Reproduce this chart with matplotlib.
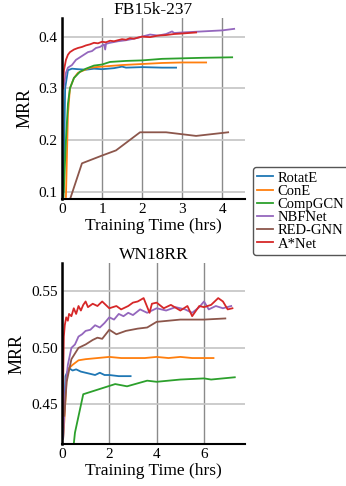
import numpy as np
import matplotlib
matplotlib.use("Agg")
import matplotlib.pyplot as plt

plt.rcParams['font.family'] = ['Liberation Serif', 'DejaVu Serif']

methods = ['RotatE', 'ConE', 'CompGCN', 'NBFNet', 'RED-GNN', 'A*Net']
colors = ['#1f77b4', '#ff7f0e', '#2ca02c', '#9467bd', '#8c564b', '#d62728']

# FB15k-237: tiempo (hrs) y MRR
fb_t = {
    'RotatE': [0.04, 0.08, 0.15, 0.25, 0.4, 0.6, 0.8, 1.0, 1.3, 1.5, 1.6, 2.0, 2.5, 2.85],
    'ConE': [0.1, 0.15, 0.2, 0.3, 0.4, 0.55, 0.7, 1.0, 1.5, 2.0, 2.5, 3.0, 3.6],
    'CompGCN': [0.04, 0.1, 0.15, 0.2, 0.3, 0.45, 0.6, 0.8, 1.0, 1.2, 1.6, 2.0, 2.5, 3.0, 3.5, 4.25],
    'NBFNet': [0.04, 0.1, 0.15, 0.25, 0.35, 0.45, 0.55, 0.65, 0.75, 0.85, 0.95, 1.05, 1.08, 1.1,
               1.2, 1.4, 1.6, 1.8, 2.0, 2.2, 2.4, 2.6, 2.75, 2.8, 3.0, 3.5, 4.0, 4.3],
    'RED-GNN': [0.2, 0.5, 1.0, 1.35, 1.95, 2.6, 3.35, 4.15],
    'A*Net': [0.02, 0.05, 0.1, 0.15, 0.2, 0.3, 0.4, 0.5, 0.6, 0.7, 0.8, 0.9, 1.0, 1.1, 1.2,
              1.3, 1.4, 1.5, 1.6, 1.7, 1.8, 2.0, 2.2, 2.4, 2.6, 2.8, 3.0, 3.35],
}
fb_mrr = {
    'RotatE': [0.1, 0.3, 0.335, 0.338, 0.337, 0.336, 0.338, 0.337, 0.339, 0.342, 0.34, 0.341, 0.34, 0.34],
    'ConE': [0.09, 0.25, 0.3, 0.32, 0.33, 0.335, 0.34, 0.342, 0.345, 0.347, 0.349, 0.35, 0.35],
    'CompGCN': [0.09, 0.2, 0.27, 0.3, 0.32, 0.332, 0.338, 0.344, 0.346, 0.351, 0.353, 0.354, 0.357, 0.358, 0.359, 0.36],
    'NBFNet': [0.3, 0.33, 0.34, 0.345, 0.355, 0.36, 0.365, 0.37, 0.372, 0.378, 0.38, 0.385, 0.375, 0.386,
               0.388, 0.391, 0.393, 0.396, 0.4, 0.404, 0.402, 0.405, 0.41, 0.407, 0.408, 0.41, 0.412, 0.415],
    'RED-GNN': [0.085, 0.155, 0.17, 0.18, 0.215, 0.215, 0.208, 0.215],
    'A*Net': [0.3, 0.335, 0.355, 0.365, 0.37, 0.375, 0.378, 0.38, 0.383, 0.385, 0.388, 0.387, 0.39, 0.389, 0.392,
              0.391, 0.393, 0.395, 0.394, 0.397, 0.396, 0.4, 0.399, 0.402, 0.403, 0.405, 0.406, 0.408],
}

# WN18RR
wn_t = {
    'RotatE': [0.05, 0.15, 0.3, 0.45, 0.6, 0.8, 1.0, 1.2, 1.4, 1.6, 1.8, 2.0, 2.4, 2.9],
    'ConE': [0.05, 0.1, 0.2, 0.3, 0.45, 0.7, 1.0, 1.5, 2.0, 2.5, 3.0, 3.5, 4.0, 4.5, 5.0, 5.5, 6.0, 6.4],
    'CompGCN': [0.5, 0.55, 0.9, 2.25, 2.75, 3.6, 4.0, 5.0, 6.0, 6.3, 7.3],
    'NBFNet': [0.05, 0.15, 0.25, 0.4, 0.55, 0.7, 0.85, 1.0, 1.2, 1.4, 1.6, 1.8, 2.0, 2.2, 2.4, 2.6,
               2.8, 3.0, 3.3, 3.6, 4.0, 4.4, 4.8, 5.2, 5.5, 5.8, 6.0, 6.2, 6.5, 6.8, 7.15],
    'RED-GNN': [0.1, 0.2, 0.4, 0.7, 1.0, 1.3, 1.5, 1.7, 2.0, 2.3, 2.7, 3.2, 3.6, 4.0, 5.0, 6.0, 6.9],
    'A*Net': [0.02, 0.08, 0.12, 0.18, 0.25, 0.3, 0.4, 0.5, 0.6, 0.7, 0.8, 0.9, 1.0, 1.1, 1.3, 1.5,
              1.7, 2.0, 2.3, 2.5, 2.8, 3.0, 3.2, 3.45, 3.7, 3.8, 4.0, 4.3, 4.6, 5.0, 5.3, 5.5,
              5.8, 6.0, 6.3, 6.6, 6.8, 7.0, 7.2],
}
wn_mrr = {
    'RotatE': [0.42, 0.475, 0.482, 0.48, 0.481, 0.479, 0.478, 0.477, 0.476, 0.478, 0.476, 0.476, 0.475, 0.475],
    'ConE': [0.42, 0.435, 0.475, 0.482, 0.485, 0.489, 0.49, 0.491, 0.492, 0.491, 0.491, 0.491, 0.492, 0.491, 0.492, 0.491, 0.491, 0.491],
    'CompGCN': [0.415, 0.425, 0.459, 0.468, 0.466, 0.471, 0.470, 0.472, 0.473, 0.472, 0.474],
    'NBFNet': [0.42, 0.465, 0.485, 0.5, 0.503, 0.51, 0.512, 0.515, 0.516, 0.52, 0.518, 0.522, 0.527, 0.525,
               0.53, 0.528, 0.531, 0.529, 0.534, 0.531, 0.535, 0.533, 0.536, 0.534, 0.531, 0.536, 0.541, 0.534,
               0.537, 0.535, 0.537],
    'RED-GNN': [0.44, 0.47, 0.49, 0.5, 0.503, 0.507, 0.509, 0.508, 0.516, 0.512, 0.515, 0.517, 0.518,
                0.523, 0.525, 0.525, 0.526],
    'A*Net': [0.43, 0.51, 0.52, 0.527, 0.524, 0.53, 0.528, 0.535, 0.53, 0.537, 0.533, 0.538, 0.541, 0.536,
              0.539, 0.537, 0.541, 0.535, 0.537, 0.534, 0.537, 0.54, 0.541, 0.544, 0.531, 0.539, 0.54, 0.535,
              0.538, 0.533, 0.537, 0.528, 0.537, 0.536, 0.538, 0.544, 0.541, 0.534, 0.535],
}

fig = plt.figure(figsize=(3.46, 4.86), dpi=100)
ax1 = fig.add_axes([0.179, 0.5905, 0.529, 0.3725])
ax2 = fig.add_axes([0.179, 0.0864, 0.529, 0.3724])


def estilo(ax):
    ax.grid(True, axis='x', color='#8a8a8a', linewidth=1.0)
    ax.grid(True, axis='y', color='#c4c4c4', linewidth=1.2)
    ax.set_axisbelow(True)
    for s in ['top', 'right']:
        ax.spines[s].set_visible(False)
    ax.spines['left'].set_linewidth(1.8)
    ax.spines['bottom'].set_linewidth(1.5)
    ax.tick_params(length=0, labelsize=11, pad=3)
    ax.set_xlabel('Training Time (hrs)', fontsize=12.5, labelpad=1)
    ax.set_ylabel('MRR', fontsize=13, labelpad=4)


lineas = []
for m, c in zip(methods, colors):
    l, = ax1.plot(fb_t[m], fb_mrr[m], color=c, linewidth=1.3, label=m)
    lineas.append(l)
    ax2.plot(wn_t[m], wn_mrr[m], color=c, linewidth=1.3)

ax1.set_title('FB15k-237', fontsize=12.5, pad=3)
ax1.set_xlim(0, 4.57)
ax1.set_ylim(0.086, 0.436)
ax1.set_xticks([0, 1, 2, 3, 4])
ax1.set_yticks([0.1, 0.2, 0.3, 0.4])
estilo(ax1)

ax2.set_title('WN18RR', fontsize=12.5, pad=3)
ax2.set_xlim(0, 7.73)
ax2.set_ylim(0.415, 0.575)
ax2.set_xticks([0, 2, 4, 6])
ax2.set_yticks([0.45, 0.50, 0.55])
ax2.set_yticklabels(['0.45', '0.50', '0.55'])
estilo(ax2)

fig.legend(handles=lineas, loc='center left', bbox_to_anchor=(0.731, 0.566),
           fontsize=10.5, handlelength=1.1, handletextpad=0.3, labelspacing=0.0,
           borderpad=0.3, borderaxespad=0, framealpha=1, edgecolor='#555555', fancybox=True)

fig.savefig('out.png', dpi=100)
